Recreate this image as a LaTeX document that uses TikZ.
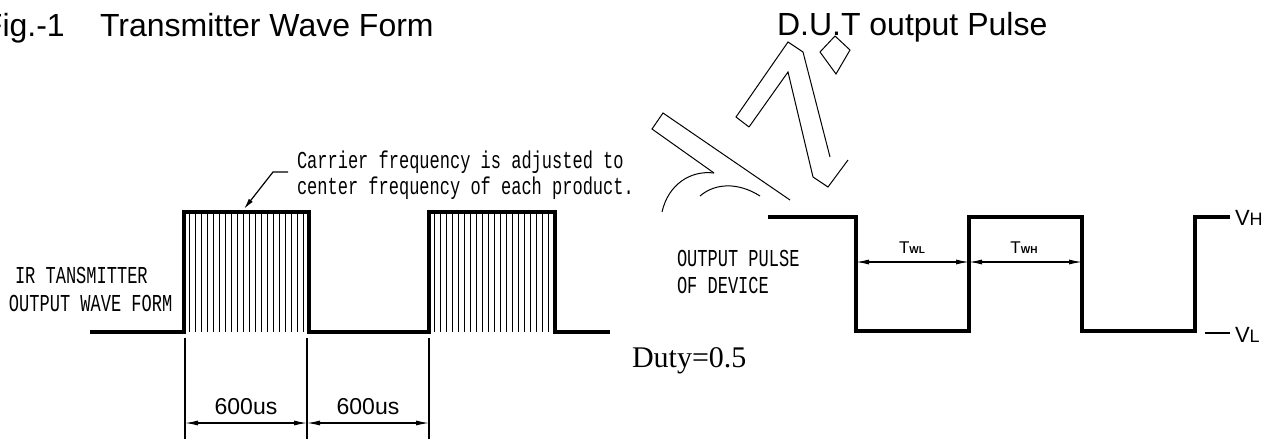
\documentclass[tikz,border=0pt]{standalone}
\usepackage{fontspec}
\usepackage{graphicx}
\setmainfont{Liberation Sans}
\newfontfamily\cadfont{Liberation Mono}
\newfontfamily\timesfont{Liberation Serif}
\usetikzlibrary{arrows.meta}
\newcommand{\cadtext}[1]{\scalebox{0.7}[1]{\fontsize{24.3}{28}\selectfont\cadfont #1}}
\tikzset{
  wave/.style={line width=3.6pt, line join=miter},
  thin/.style={line width=1.2pt},
  hatch/.style={line width=0.9pt},
  dim/.style={line width=1.1pt, {Latex[length=13pt,width=5pt]}-{Latex[length=13pt,width=5pt]}},
  wm/.style={line width=1pt},
  lbl/.style={inner sep=0pt, outer sep=0pt}
}
\begin{document}
\begin{tikzpicture}[x=1pt,y=-1pt]
\useasboundingbox (0,0) rectangle (1287,439);
\clip (0,0) rectangle (1287,439);
\fill[white] (0,0) rectangle (1287,439);
% titles
\node[lbl, anchor=base west] (t0) at (-17,36) {\fontsize{32}{36}\selectfont Fig.-1};
\node[lbl, anchor=base west] (t1) at (100,36) {\fontsize{32}{36}\selectfont Transmitter Wave Form};
\node[lbl, anchor=base west] (t2) at (777,35) {\fontsize{32}{36}\selectfont D.U.T output Pulse};
% watermark outlines
\draw[wm] (749,127) -- (736,117) -- (788,42) -- (803,52) -- (830,157);
\draw[wm] (749,127) -- (788,72) -- (813,177) -- (828,187) -- (848,160);
\draw[wm] (820,52) -- (835,36) -- (850,50) -- (836,74) -- cycle;
\draw[wm] (714,173) -- (652,129) -- (663,113) -- (790,200);
\draw[wm] (714,173) .. controls (690,170) and (668,185) .. (662,212);
\draw[wm] (700,196) .. controls (715,183) and (738,182) .. (760,196);
% left waveform
\foreach \x in {189,195,...,305} \draw[hatch] (\x,212) -- (\x,332);
\foreach \x in {434,440,...,551} \draw[hatch] (\x,212) -- (\x,332);
\draw[wave] (90,332) -- (184,332) -- (184,212) -- (309,212) -- (309,332) -- (429,332) -- (429,212) -- (555,212) -- (555,332) -- (610,332);
% annotation
\coordinate (tip) at (244,209);
\coordinate (elbow) at (273,172);
\coordinate (lead) at (288,172);
\draw[thin, -{Latex[length=11pt,width=5pt]}] (lead) -- (elbow) -- (tip);
\node[lbl, anchor=west] (c1) at (297,162) {\cadtext{Carrier frequency is adjusted to}};
\node[lbl, anchor=west] (c2) at (297,188) {\cadtext{center frequency of each product.}};
\node[lbl, anchor=west] (ir1) at (15,275) {\cadtext{IR TANSMITTER}};
\node[lbl, anchor=west] (ir2) at (9,303) {\cadtext{OUTPUT WAVE FORM}};
% dimensions
\coordinate (e1t) at (185,338); \coordinate (e1b) at (185,439);
\coordinate (e2t) at (307,338); \coordinate (e2b) at (307,439);
\coordinate (e3t) at (429,338); \coordinate (e3b) at (429,439);
\draw[thin] (e1t) -- (e1b) (e2t) -- (e2b) (e3t) -- (e3b);
\coordinate (d1) at (185,423); \coordinate (d2) at (307,423); \coordinate (d3) at (429,423);
\draw[dim] (d1) -- (d2);
\draw[dim] (d2) -- (d3);
\node[lbl] (u1) at (246,407) {\fontsize{23}{26}\selectfont 600us};
\node[lbl] (u2) at (368,407) {\fontsize{23}{26}\selectfont 600us};
\node[lbl, anchor=base west] (duty) at (632,367) {\fontsize{30}{34}\selectfont\timesfont Duty=0.5};
% right waveform
\draw[wave] (768,217) -- (856,217) -- (856,331) -- (969,331) -- (969,217) -- (1082,217) -- (1082,331) -- (1195,331) -- (1195,217) -- (1230,217);
\draw[thin] (1205,333) -- (1230,333);
\node[lbl, anchor=west] (vh) at (1235,218) {\fontsize{22}{26}\selectfont V{\fontsize{18}{20}\selectfont H}};
\node[lbl, anchor=west] (vl) at (1235,335) {\fontsize{22}{26}\selectfont V{\fontsize{18}{20}\selectfont L}};
\node[lbl, anchor=west] (op1) at (677,258) {\cadtext{OUTPUT PULSE}};
\node[lbl, anchor=west] (op2) at (677,285) {\cadtext{OF DEVICE}};
\coordinate (r1) at (856,262); \coordinate (r2) at (969,262); \coordinate (r3) at (1082,262);
\draw[dim] (r1) -- (r2);
\draw[dim] (r2) -- (r3);
\node[lbl, anchor=base] (twl) at (912,253) {\fontsize{17}{18}\selectfont T{\fontsize{10}{10}\selectfont\bfseries WL}};
\node[lbl, anchor=base] (twh) at (1024,253) {\fontsize{17}{18}\selectfont T{\fontsize{10}{10}\selectfont\bfseries WH}};
\end{tikzpicture}
\end{document}
